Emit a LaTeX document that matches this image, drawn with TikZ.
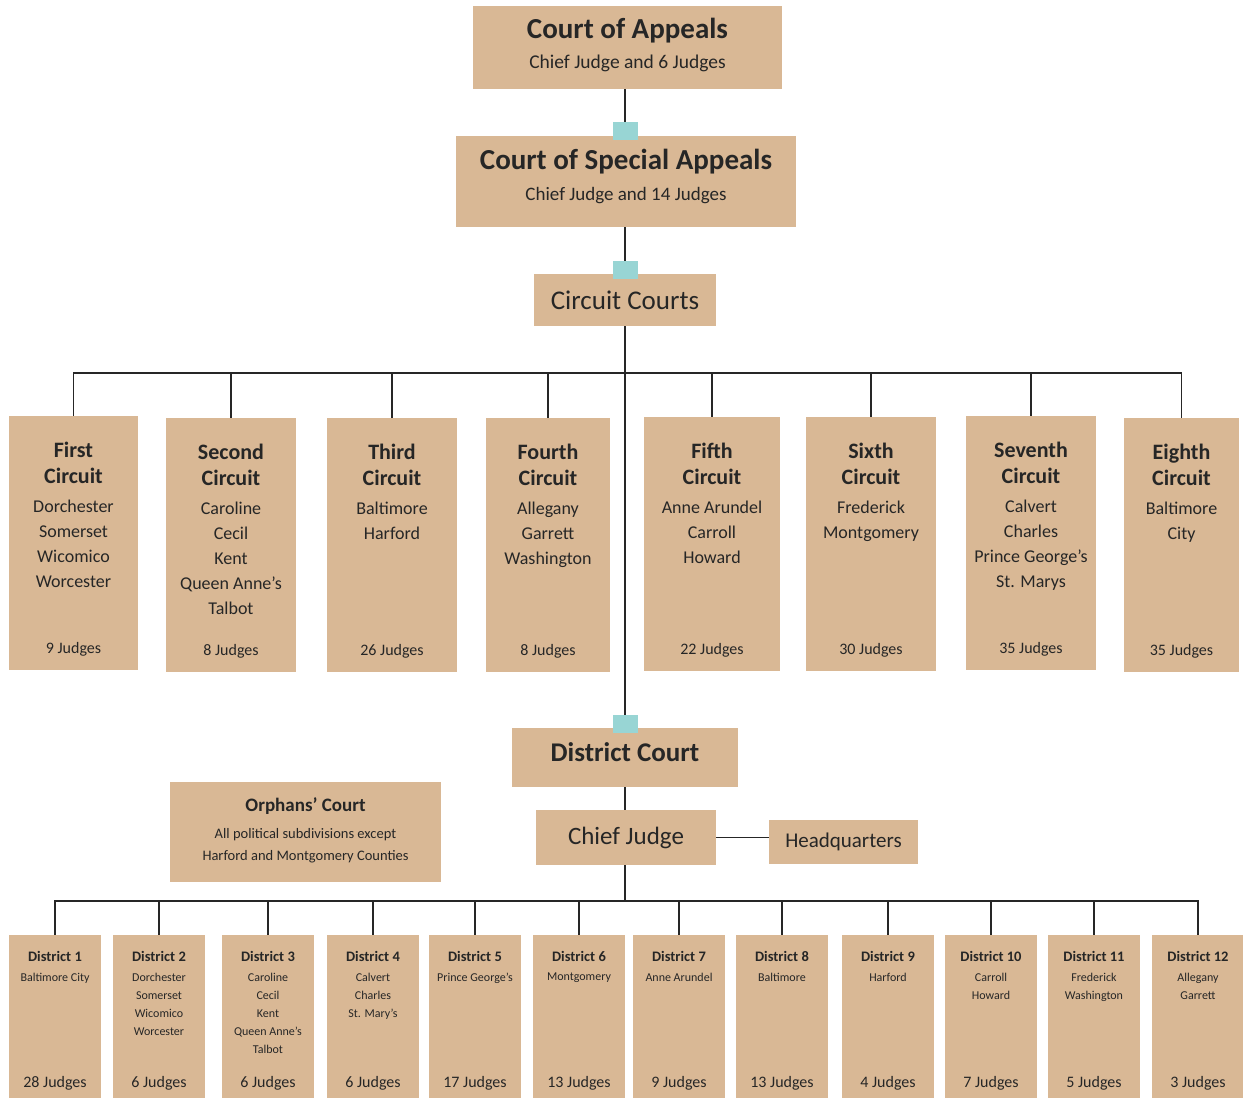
\documentclass[tikz,border=0pt]{standalone}
\usepackage{fontspec}
\setmainfont{Carlito}
\definecolor{boxtan}{HTML}{D9B895}
\definecolor{knobteal}{HTML}{98D5D4}
\tikzset{
  box/.style={fill=boxtan, inner sep=0pt},
  link/.style={line width=1.3pt, draw=black!85},
  knob/.style={fill=knobteal, minimum width=25pt, minimum height=18pt, inner sep=0pt},
  big/.style={font=\fontsize{29}{32}\selectfont\bfseries, text=black!85},
  sub/.style={font=\fontsize{19.5}{22}\selectfont, text=black!85},
  ctitle/.style={font=\fontsize{22}{26}\selectfont\bfseries, align=center, text=black!85, inner sep=0pt},
  ctowns/.style={font=\fontsize{18}{25}\selectfont, align=center, text=black!85, inner sep=0pt},
  judges/.style={font=\fontsize{16}{18}\selectfont, text=black!85, inner sep=0pt},
  dtitle/.style={font=\fontsize{14.5}{17}\selectfont\bfseries, text=black!85, inner sep=0pt},
  dtowns/.style={font=\fontsize{12}{18}\selectfont, align=center, text=black!85, inner sep=0pt},
}
\begin{document}
\begin{tikzpicture}[x=1pt, y=-1pt]
\useasboundingbox (0,0) rectangle (1243,1099);

% upper courts
\node[box, minimum width=309pt, minimum height=83pt] (ca) at (627.5,47.5) {};
\node[big] (ca-title) at (627.5,31) {Court of Appeals};
\node[sub] (ca-sub) at (627.5,63) {Chief Judge and 6 Judges};

\node[box, minimum width=340pt, minimum height=91pt] (csa) at (626,181.5) {};
\node[big] (csa-title) at (626,162) {Court of Special Appeals};
\node[sub, font=\fontsize{19}{22}\selectfont] (csa-sub) at (626,196) {Chief Judge and 14 Judges};

\node[box, minimum width=182pt, minimum height=52pt, font=\fontsize{27}{30}\selectfont, text=black!85] (cc) at (625,300) {Circuit Courts};

% circuits
\foreach \n/\l/\r/\t/\ttl/\tw/\j in {
  1/9/138/416/{First\\Circuit}/{Dorchester\\Somerset\\Wicomico\\Worcester}/9,
  2/166/296/418/{Second\\Circuit}/{Caroline\\Cecil\\Kent\\Queen Anne’s\\Talbot}/8,
  3/327/457/418/{Third\\Circuit}/{Baltimore\\Harford}/26,
  4/486/610/418/{Fourth\\Circuit}/{Allegany\\Garrett\\Washington}/8,
  5/644/780/417/{Fifth\\Circuit}/{Anne Arundel\\Carroll\\Howard}/22,
  6/806/936/417/{Sixth\\Circuit}/{Frederick\\Montgomery}/30,
  7/966/1096/416/{Seventh\\Circuit}/{Calvert\\Charles\\Prince George’s\\St. Marys}/35,
  8/1124/1239/418/{Eighth\\Circuit}/{Baltimore\\City}/35}
{
  \node[box, minimum width={(\r-\l)*1pt}, minimum height=254pt] (c\n) at ({(\l+\r)/2},{\t+127}) {};
  \node[ctitle] (c\n-title) at ({(\l+\r)/2},{\t+47}) {\ttl};
  \node[ctowns, anchor=north] (c\n-towns) at ({(\l+\r)/2},{\t+84}) {\tw};
  \node[judges] (c\n-judges) at ({(\l+\r)/2},{\t+233}) {\j{} Judges};
}

% district court
\node[box, minimum width=226pt, minimum height=59pt] (dc) at (625,757.5) {};
\node[big, font=\fontsize{27}{30}\selectfont\bfseries] (dc-title) at (625,752) {District Court};
\node[box, minimum width=180pt, minimum height=55pt, font=\fontsize{25}{28}\selectfont, text=black!85] (chief) at (626,837.5) {Chief Judge};
\node[box, minimum width=149pt, minimum height=44pt, font=\fontsize{21}{24}\selectfont, text=black!85] (hq) at (843.5,842) {Headquarters};

\node[box, minimum width=271pt, minimum height=100pt] (oc) at (305.5,832) {};
\node[font=\fontsize{19}{22}\selectfont\bfseries, text=black!85] (oc-title) at (305.5,806) {Orphans’ Court};
\node[font=\fontsize{14.5}{22}\selectfont, align=center, text=black!85] (oc-sub) at (305.5,846) {All political subdivisions except\\Harford and Montgomery Counties};

% districts
\foreach \n/\l/\tw/\j in {
  1/9/{Baltimore City}/28,
  2/113/{Dorchester\\Somerset\\Wicomico\\Worcester}/6,
  3/222/{Caroline\\Cecil\\Kent\\Queen Anne’s\\Talbot}/6,
  4/327/{Calvert\\Charles\\St. Mary’s}/6,
  5/429/{Prince George’s}/17,
  6/533/{Montgomery}/13,
  7/633/{Anne Arundel}/9,
  8/736/{Baltimore}/13,
  9/842/{Harford}/4,
  10/945/{Carroll\\Howard}/7,
  11/1048/{Frederick\\Washington}/5,
  12/1152/{Allegany\\Garrett}/3}
{
  \node[box, minimum width=92pt, minimum height=163pt] (d\n) at ({\l+46},1016.5) {};
  \node[dtitle] (d\n-title) at ({\l+46},956) {District \n};
  \node[dtowns, anchor=north] (d\n-towns) at ({\l+46},973) {\tw};
  \node[judges] (d\n-judges) at ({\l+46},1083) {\j{} Judges};
}

% junction squares
\coordinate (cbar) at (625,373);
\coordinate (dbar) at (625,901);
\node[knob] (k1) at (625,131) {};
\node[knob] (k2) at (625,270) {};
\node[knob] (k3) at (625,724) {};

% connectors
\draw[link] (k1 |- ca.south) -- (k1.north);
\draw[link] (k2 |- csa.south) -- (k2.north);
\draw[link] (cc.south) -- (k3.north);
\draw[link] (k3 |- dc.south) -- (k3 |- chief.north);
\draw[link] (k3 |- chief.south) -- (dbar);
\draw[link] (chief.east) -- (chief.east -| hq.west);
\draw[link] (c1.north) |- (cbar) -| (c8.north);
\foreach \n in {2,...,7}
  \draw[link] (c\n.north) -- (c\n.north |- cbar);
\draw[link] (d1.north) |- (dbar) -| (d12.north);
\foreach \n in {2,...,11}
  \draw[link] (d\n.north) -- (d\n.north |- dbar);
\end{tikzpicture}
\end{document}
